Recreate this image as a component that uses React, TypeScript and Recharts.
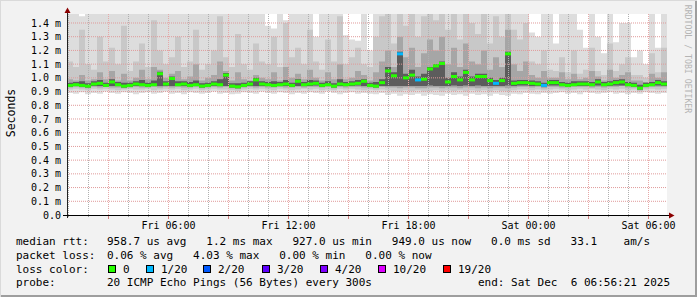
import React from 'react';
import { ComposedChart, Area, Scatter, XAxis, YAxis, ReferenceLine } from 'recharts';

const MONO = '"DejaVu Sans Mono", monospace';

// 30 hour window ending Sat 06:56:21, hours counted from Fri 00:00
const START = 0.925;
const END = 30.925;
const STEP = 0.3;
const STEP_PX = 6;

// median rtt (ms)
const medianMs = [
  0.945, 0.95, 0.945, 0.94, 0.955, 0.96, 0.945, 0.97, 0.95, 0.94,
  0.945, 0.955, 0.95, 0.945, 0.95, 1.03, 0.955, 0.995, 0.95, 0.955,
  0.945, 0.95, 0.94, 0.945, 0.955, 0.95, 1.02, 0.94, 0.935, 0.945,
  0.955, 0.985, 0.955, 0.95, 0.945, 0.95, 0.955, 0.945, 0.975, 0.95,
  0.955, 0.96, 0.945, 0.95, 0.94, 0.955, 0.95, 0.955, 0.96, 0.975,
  0.945, 0.94, 0.965, 1.05, 1.015, 1.175, 1.0, 1.02, 0.985, 0.99,
  1.065, 1.087, 1.105, 0.97, 1.01, 0.985, 1.04, 0.985, 1.01, 1.01,
  0.98, 0.96, 0.98, 1.175, 0.96, 0.965, 0.965, 0.96, 0.955, 0.945,
  0.965, 0.965, 0.95, 0.945, 0.95, 0.955, 0.955, 0.95, 0.97, 0.95,
  0.955, 0.965, 0.97, 0.95, 0.945, 0.925, 0.945, 0.95, 0.965, 0.955,
  0.955,
];

// lost pings out of 20
const lossCount = [
  0, 0, 0, 0, 0, 0, 0, 0, 0, 0,
  0, 0, 0, 0, 0, 0, 0, 0, 0, 0,
  0, 0, 0, 0, 0, 0, 0, 0, 0, 0,
  0, 0, 0, 0, 0, 0, 0, 0, 0, 0,
  0, 0, 0, 0, 0, 0, 0, 0, 0, 0,
  0, 0, 0, 0, 0, 1, 0, 0, 1, 0,
  0, 0, 0, 0, 0, 0, 0, 0, 0, 0,
  0, 1, 0, 0, 0, 0, 0, 0, 0, 1,
  0, 0, 0, 0, 0, 0, 0, 0, 0, 0,
  0, 0, 0, 0, 0, 0, 0, 0, 0, 0,
  0,
];

// smoke: fastest ping
const minMs = [
  0.89, 0.885, 0.895, 0.88, 0.89, 0.885, 0.9, 0.89, 0.885, 0.895,
  0.89, 0.88, 0.89, 0.895, 0.885, 0.89, 0.9, 0.885, 0.89, 0.88,
  0.895, 0.89, 0.885, 0.89, 0.9, 0.885, 0.89, 0.88, 0.885, 0.895,
  0.89, 0.885, 0.9, 0.89, 0.885, 0.895, 0.89, 0.88, 0.89, 0.885,
  0.895, 0.89, 0.885, 0.9, 0.89, 0.88, 0.89, 0.895, 0.885, 0.89,
  0.885, 0.88, 0.89, 0.875, 0.885, 0.87, 0.88, 0.875, 0.885, 0.87,
  0.88, 0.875, 0.87, 0.885, 0.875, 0.88, 0.87, 0.885, 0.875, 0.88,
  0.87, 0.885, 0.875, 0.87, 0.885, 0.88, 0.89, 0.885, 0.88, 0.89,
  0.885, 0.89, 0.895, 0.885, 0.89, 0.88, 0.895, 0.89, 0.885, 0.89,
  0.895, 0.885, 0.89, 0.88, 0.89, 0.885, 0.895, 0.89, 0.885, 0.89,
  0.89,
];

// smoke: lower outer-middle band
const lowMidMs = [
  0.915, 0.92, 0.915, 0.91, 0.92, 0.915, 0.92, 0.915, 0.91, 0.915,
  0.92, 0.915, 0.915, 0.92, 0.91, 0.915, 0.92, 0.915, 0.92, 0.91,
  0.915, 0.92, 0.91, 0.915, 0.92, 0.915, 0.915, 0.91, 0.905, 0.915,
  0.92, 0.915, 0.92, 0.915, 0.91, 0.92, 0.915, 0.91, 0.915, 0.92,
  0.915, 0.92, 0.91, 0.915, 0.91, 0.92, 0.915, 0.92, 0.915, 0.91,
  0.915, 0.91, 0.915, 0.91, 0.905, 0.9, 0.91, 0.905, 0.91, 0.9,
  0.905, 0.91, 0.9, 0.91, 0.905, 0.91, 0.9, 0.91, 0.905, 0.91,
  0.9, 0.91, 0.905, 0.9, 0.91, 0.915, 0.915, 0.91, 0.915, 0.91,
  0.915, 0.92, 0.915, 0.91, 0.915, 0.92, 0.915, 0.92, 0.915, 0.91,
  0.92, 0.915, 0.92, 0.91, 0.915, 0.9, 0.915, 0.92, 0.915, 0.92,
  0.92,
];

// smoke: lower inner band
const lowInnerMs = [
  0.93, 0.935, 0.93, 0.925, 0.935, 0.93, 0.935, 0.93, 0.93, 0.925,
  0.93, 0.935, 0.93, 0.93, 0.935, 0.93, 0.935, 0.93, 0.935, 0.93,
  0.93, 0.935, 0.925, 0.93, 0.935, 0.93, 0.935, 0.925, 0.92, 0.93,
  0.935, 0.93, 0.935, 0.93, 0.93, 0.935, 0.93, 0.93, 0.935, 0.93,
  0.935, 0.935, 0.93, 0.935, 0.925, 0.935, 0.93, 0.935, 0.935, 0.93,
  0.93, 0.925, 0.935, 0.93, 0.93, 0.925, 0.93, 0.93, 0.925, 0.925,
  0.93, 0.93, 0.925, 0.93, 0.93, 0.925, 0.93, 0.93, 0.925, 0.93,
  0.925, 0.93, 0.93, 0.925, 0.93, 0.935, 0.935, 0.93, 0.935, 0.925,
  0.935, 0.935, 0.93, 0.93, 0.935, 0.935, 0.935, 0.93, 0.935, 0.93,
  0.935, 0.935, 0.94, 0.93, 0.93, 0.91, 0.93, 0.935, 0.935, 0.935,
  0.935,
];

// smoke: core pings just below the median
const coreLowMs = [
  0.935, 0.94, 0.935, 0.93, 0.94, 0.94, 0.935, 0.94, 0.94, 0.93,
  0.935, 0.94, 0.94, 0.935, 0.94, 0.94, 0.94, 0.94, 0.94, 0.94,
  0.935, 0.94, 0.93, 0.935, 0.94, 0.94, 0.94, 0.93, 0.925, 0.935,
  0.94, 0.94, 0.94, 0.94, 0.935, 0.94, 0.94, 0.935, 0.94, 0.94,
  0.94, 0.945, 0.935, 0.94, 0.93, 0.94, 0.94, 0.94, 0.945, 0.94,
  0.935, 0.93, 0.94, 0.94, 0.94, 0.94, 0.94, 0.94, 0.94, 0.94,
  0.945, 0.94, 0.94, 0.94, 0.945, 0.94, 0.945, 0.94, 0.945, 0.94,
  0.94, 0.94, 0.94, 0.945, 0.94, 0.945, 0.945, 0.94, 0.94, 0.935,
  0.945, 0.945, 0.94, 0.935, 0.94, 0.94, 0.94, 0.94, 0.945, 0.94,
  0.94, 0.945, 0.945, 0.94, 0.935, 0.915, 0.935, 0.94, 0.945, 0.94,
  0.94,
];

// smoke: core pings just above the median
const coreHighMs = [
  0.965, 0.97, 0.975, 0.96, 0.975, 0.985, 0.965, 0.99, 0.97, 0.965,
  0.965, 0.975, 0.985, 0.965, 0.98, 1.045, 0.975, 1.01, 0.975, 0.975,
  0.97, 0.98, 0.96, 0.965, 0.975, 0.99, 1.035, 0.96, 0.96, 0.965,
  0.975, 1.0, 0.975, 0.97, 0.975, 0.97, 0.985, 0.965, 0.99, 0.97,
  0.985, 0.98, 0.965, 0.975, 0.96, 0.99, 0.97, 0.975, 0.985, 0.99,
  0.965, 0.97, 0.99, 1.08, 1.04, 1.19, 1.03, 1.06, 1.01, 1.03,
  1.08, 1.1, 1.12, 1.0, 1.04, 1.01, 1.06, 1.01, 1.03, 1.03,
  1.0, 0.985, 1.0, 1.19, 0.98, 0.985, 0.985, 0.98, 0.975, 0.965,
  0.985, 0.985, 0.97, 0.965, 0.975, 0.975, 0.975, 0.97, 0.99, 0.97,
  0.975, 0.985, 0.99, 0.97, 0.965, 0.95, 0.965, 0.97, 0.985, 0.975,
  0.975,
];

// smoke: upper inner band
const highInnerMs = [
  0.99, 0.98, 1.02, 0.98, 0.99, 1.04, 0.99, 1.05, 0.98, 1.03,
  0.98, 1.0, 1.06, 0.99, 1.08, 1.06, 1.0, 1.03, 1.05, 0.99,
  1.01, 1.1, 0.98, 1.0, 1.02, 1.12, 1.05, 0.98, 1.04, 0.99,
  0.98, 1.02, 1.0, 0.99, 1.04, 0.98, 1.08, 1.0, 1.03, 0.99,
  1.06, 1.0, 0.98, 1.04, 0.99, 1.1, 0.99, 1.0, 1.05, 1.02,
  0.98, 1.04, 1.12, 1.2, 1.08, 1.3, 1.15, 1.22, 1.08, 1.18,
  1.28, 1.2, 1.3, 1.1, 1.22, 1.08, 1.25, 1.12, 1.1, 1.2,
  1.06, 1.15, 1.08, 1.35, 1.1, 1.05, 1.12, 1.02, 1.0, 1.05,
  1.0, 1.0, 1.04, 0.99, 1.03, 0.99, 1.0, 1.05, 1.01, 0.98,
  1.06, 1.0, 1.02, 1.04, 0.98, 0.98, 0.97, 1.03, 1.0, 1.04,
  1.04,
];

// smoke: upper outer-middle band
const highMidMs = [
  1.12, 1.08, 1.35, 1.1, 1.06, 1.3, 1.12, 1.22, 1.1, 1.38,
  1.05, 1.12, 1.25, 1.08, 1.42, 1.2, 1.1, 1.15, 1.3, 1.08,
  1.12, 1.35, 1.06, 1.1, 1.2, 1.45, 1.15, 1.08, 1.32, 1.1,
  1.06, 1.25, 1.12, 1.1, 1.3, 1.08, 1.4, 1.15, 1.22, 1.1,
  1.35, 1.12, 1.06, 1.28, 1.12, 1.45, 1.1, 1.15, 1.22, 1.1,
  1.08, 1.3, 1.45, 1.5, 1.25, 1.5, 1.38, 1.5, 1.3, 1.45,
  1.5, 1.42, 1.5, 1.35, 1.5, 1.28, 1.5, 1.4, 1.32, 1.5,
  1.25, 1.45, 1.3, 1.5, 1.35, 1.28, 1.4, 1.12, 1.1, 1.2,
  1.06, 1.05, 1.15, 1.04, 1.2, 1.03, 1.06, 1.22, 1.05, 1.02,
  1.25, 1.05, 1.1, 1.15, 1.02, 1.02, 1.0, 1.18, 1.04, 1.22,
  1.22,
];

// smoke: slowest ping
const maxMs = [
  1.5, 1.5, 1.45, 1.5, 1.5, 1.5, 1.5, 1.5, 1.5, 1.5,
  1.5, 1.5, 1.5, 1.5, 1.5, 1.5, 1.5, 1.5, 1.5, 1.5,
  1.5, 1.5, 1.5, 1.5, 1.5, 1.5, 1.5, 1.5, 1.5, 1.5,
  1.5, 1.5, 1.5, 1.38, 1.36, 1.5, 1.42, 1.5, 1.5, 1.5,
  1.5, 1.3, 1.5, 1.5, 1.5, 1.5, 1.31, 1.28, 1.27, 1.5,
  1.2, 1.5, 1.5, 1.5, 1.5, 1.5, 1.5, 1.5, 1.5, 1.5,
  1.5, 1.5, 1.5, 1.5, 1.5, 1.5, 1.5, 1.5, 1.5, 1.5,
  1.5, 1.5, 1.5, 1.5, 1.5, 1.5, 1.5, 1.33, 1.3, 1.5,
  1.5, 1.25, 1.5, 1.5, 1.5, 1.35, 1.22, 1.5, 1.3, 1.18,
  1.5, 1.26, 1.4, 1.4, 1.15, 1.2, 1.1, 1.5, 1.22, 1.5,
  1.5,
];

const hourTicks = [
  1, 2, 3, 4, 5, 6, 7, 8, 9, 10, 11, 12, 13, 14, 15,
  16, 17, 18, 19, 20, 21, 22, 23, 24, 25, 26, 27, 28, 29, 30,
];
const labelHours = [6, 12, 18, 24, 30];
const labelTexts = ['Fri 06:00', 'Fri 12:00', 'Fri 18:00', 'Sat 00:00', 'Sat 06:00'];

const yTicks = [0, 0.1, 0.2, 0.3, 0.4, 0.5, 0.6, 0.7, 0.8, 0.9, 1.0, 1.1, 1.2, 1.3, 1.4];
const yLabels = [
  '0.0', '0.1 m', '0.2 m', '0.3 m', '0.4 m', '0.5 m', '0.6 m', '0.7 m',
  '0.8 m', '0.9 m', '1.0 m', '1.1 m', '1.2 m', '1.3 m', '1.4 m',
];

const lossThresholds = [0, 1, 2, 3, 4, 10, 19];
const lossLabels = ['0', '1/20', '2/20', '3/20', '4/20', '10/20', '19/20'];
const lossColors = ['#26ff00', '#00b8ff', '#0059ff', '#5e00ff', '#7e00ff', '#dd00ff', '#ff0000'];
const swatchX = [108, 146, 203, 262, 320, 378, 443];

const lossColor = (n: number) => {
  let c = lossColors[0];
  lossThresholds.forEach((th, i) => {
    if (n >= th) c = lossColors[i];
  });
  return c;
};

const rows = medianMs.map((m, i) => ({
  t: START + STEP * i,
  outer: [minMs[i], maxMs[i]],
  mid: [lowMidMs[i], highMidMs[i]],
  inner: [lowInnerMs[i], highInnerMs[i]],
  core: [coreLowMs[i], coreHighMs[i]],
  med: m,
  loss: lossCount[i],
}));

const HourTick = (props: any) => {
  const { x, payload } = props;
  const h = payload.value;
  const li = labelHours.indexOf(h);
  const major = h % 3 === 0;
  return (
    <g>
      <line x1={x} x2={x} y1={215} y2={major ? 219 : 217} stroke={major ? '#d08080' : '#a0a0a0'} />
      {li >= 0 && (
        <text x={x} y={225} textAnchor="middle" dominantBaseline="central" fontSize={10} fontFamily={MONO} fill="#000">
          {labelTexts[li]}
        </text>
      )}
    </g>
  );
};

const MedianBar = (props: any) => {
  const { cx, cy, payload } = props;
  if (cx == null || cy == null) return <g />;
  return <rect x={cx} y={cy - 1.5} width={STEP_PX} height={3} fill={lossColor(payload.loss)} />;
};

const textStyle: React.CSSProperties = { whiteSpace: 'pre' };

const bands = [
  { key: 'outer', fill: '#dddddd' },
  { key: 'mid', fill: '#c8c8c8' },
  { key: 'inner', fill: '#a6a6a6' },
  { key: 'core', fill: '#5c5c5c' },
];

export default function App() {
  return (
    <div
      style={{
        position: 'fixed',
        left: 0,
        top: 0,
        width: 697,
        height: 297,
        background: '#f2f2f2',
        boxShadow: 'inset 1px 1px 0 #dadada, inset -2px -2px 0 #9e9e9e',
      }}
    >
      <div style={{ position: 'absolute', left: 67, top: 14, width: 600, height: 201, background: '#fff' }} />
      <ComposedChart
        width={697}
        height={297}
        data={rows}
        margin={{ top: 14, right: 30, bottom: 62, left: 0 }}
        style={{ position: 'absolute', left: 0, top: 0 }}
      >
        <XAxis
          type="number"
          dataKey="t"
          domain={[START, END]}
          allowDataOverflow
          ticks={hourTicks}
          interval={0}
          height={20}
          axisLine={false}
          tickLine={false}
          tickSize={0}
          tickMargin={0}
          tick={<HourTick />}
        />
        <YAxis
          type="number"
          domain={[0, 1.4656]}
          allowDataOverflow
          ticks={yTicks}
          interval={0}
          width={67}
          axisLine={false}
          tickLine={false}
          tickSize={0}
          tickMargin={6}
          tick={{ fontSize: 10, fontFamily: MONO, fill: '#000' }}
          tickFormatter={(v: number) => yLabels[yTicks.indexOf(v)]}
        />
        {bands.map((b) => (
          <Area
            key={b.key}
            type="stepAfter"
            dataKey={b.key}
            stroke="none"
            fill={b.fill}
            fillOpacity={1}
            dot={false}
            activeDot={false}
            isAnimationActive={false}
          />
        ))}
        {hourTicks
          .filter((h) => h % 3 !== 0)
          .map((h) => (
            <ReferenceLine key={'minor' + h} x={h} stroke="#b0b0b0" strokeWidth={1} strokeDasharray="1 1" />
          ))}
        {hourTicks
          .filter((h) => h % 3 === 0)
          .map((h) => (
            <ReferenceLine key={'major' + h} x={h} stroke="#e6a8a8" strokeWidth={1} strokeDasharray="1 1" />
          ))}
        {yTicks.slice(1).map((v) => (
          <ReferenceLine key={'h' + v} y={v} stroke="#e09a9a" strokeDasharray="1 1" />
        ))}
        <Scatter data={rows.slice(0, -1)} dataKey="med" shape={MedianBar} isAnimationActive={false} />
      </ComposedChart>
      <svg width={697} height={297} style={{ position: 'absolute', left: 0, top: 0, pointerEvents: 'none' }}>
        <line x1={67.5} x2={67.5} y1={12} y2={218} stroke="#222" />
        <line x1={63} x2={670} y1={215.5} y2={215.5} stroke="#000" />
        <polygon points="64.5,13 70.5,13 67.5,7.5" fill="#8b0000" />
        <polygon points="669,212.5 669,218.5 674.5,215.5" fill="#8b0000" />
        <text
          x={11}
          y={113}
          transform="rotate(-90 11 113)"
          textAnchor="middle"
          dominantBaseline="central"
          fontSize={11.5}
          fontFamily={MONO}
          fill="#000"
        >
          Seconds
        </text>
        <text
          x={688}
          y={59}
          transform="rotate(90 688 59)"
          textAnchor="middle"
          dominantBaseline="central"
          fontSize={8.2}
          fontFamily={MONO}
          fill="#b4b4b4"
        >
          RRDTOOL / TOBI OETIKER
        </text>
        <g fontSize={11} fontFamily={MONO} fill="#000" dominantBaseline="central">
          <text x={16} y={241.5} style={textStyle}>median rtt:</text>
          <text x={107} y={241.5} style={textStyle}>
            958.7 us avg   1.2 ms max   927.0 us min   949.0 us now   0.0 ms sd   33.1    am/s
          </text>
          <text x={16} y={255} style={textStyle}>packet loss:</text>
          <text x={107} y={255} style={textStyle}>
            0.06 % avg   4.03 % max   0.00 % min   0.00 % now
          </text>
          <text x={16} y={269} style={textStyle}>loss color:</text>
          {lossLabels.map((l, i) => (
            <g key={l}>
              <rect x={swatchX[i] + 0.5} y={265.5} width={7} height={7} fill={lossColors[i]} stroke="#000" />
              <text x={swatchX[i] + 15} y={269} style={textStyle}>{l}</text>
            </g>
          ))}
          <text x={16} y={282.5} style={textStyle}>probe:</text>
          <text x={107} y={282.5} style={textStyle}>20 ICMP Echo Pings (56 Bytes) every 300s</text>
          <text x={478} y={282.5} style={textStyle}>end: Sat Dec  6 06:56:21 2025</text>
        </g>
      </svg>
    </div>
  );
}
